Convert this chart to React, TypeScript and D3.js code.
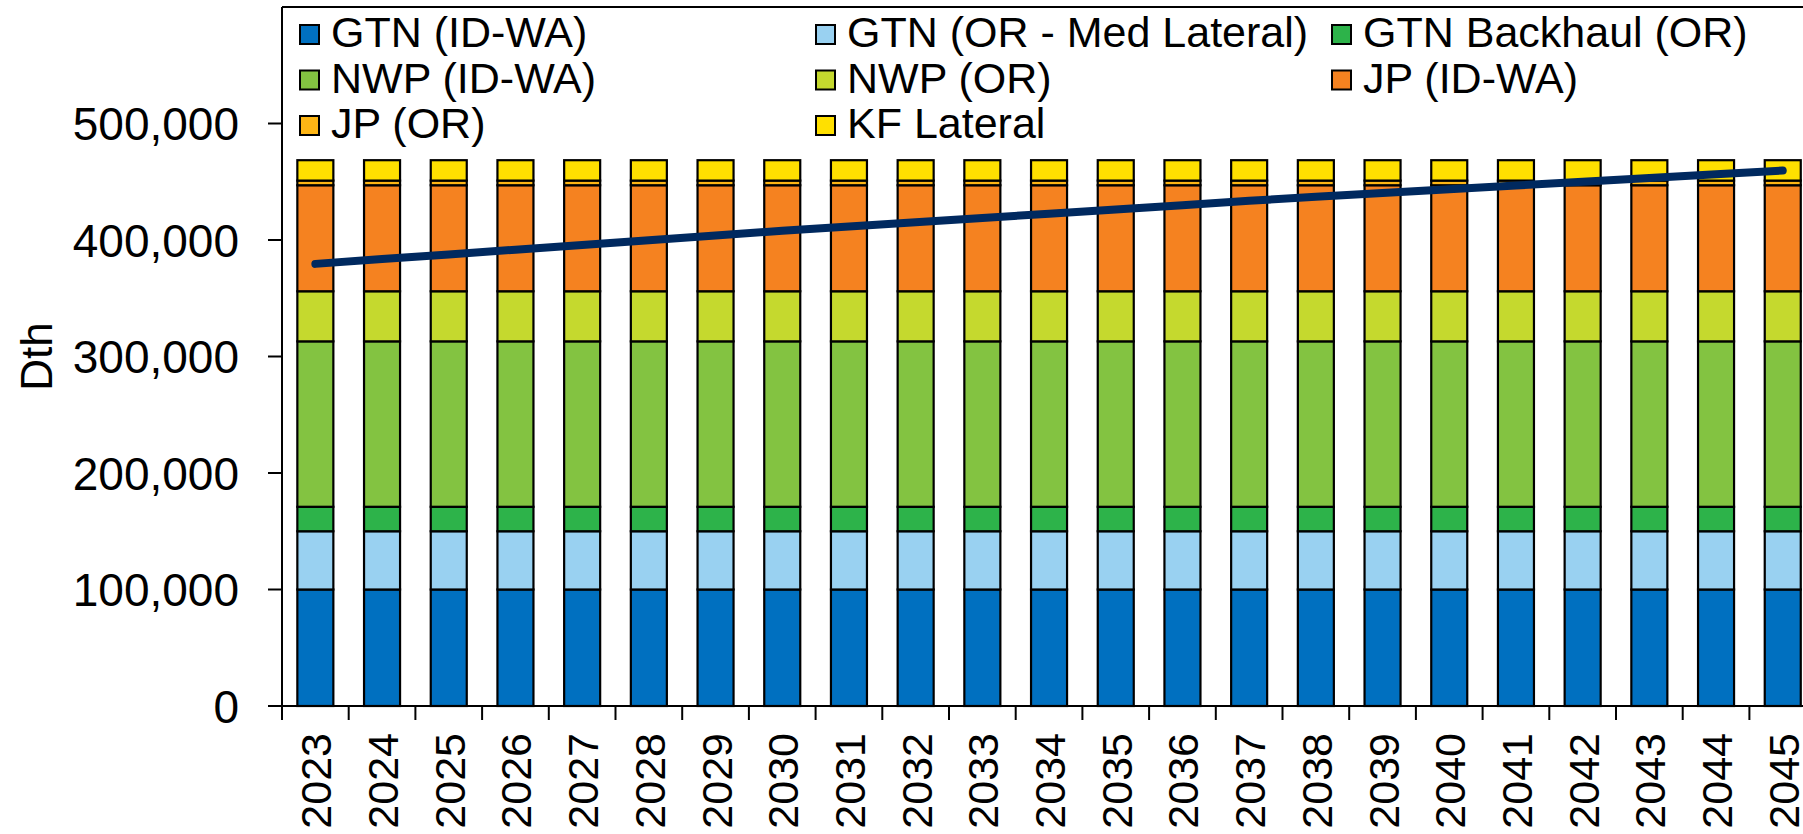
import React from 'react';
import * as d3 from 'd3';

const years = ['2023','2024','2025','2026','2027','2028','2029','2030','2031','2032','2033','2034','2035','2036','2037','2038','2039','2040','2041','2042','2043','2044','2045'];

const gtnIdWa = [100000,100000,100000,100000,100000,100000,100000,100000,100000,100000,100000,100000,100000,100000,100000,100000,100000,100000,100000,100000,100000,100000,100000];
const gtnOrMed = [50000,50000,50000,50000,50000,50000,50000,50000,50000,50000,50000,50000,50000,50000,50000,50000,50000,50000,50000,50000,50000,50000,50000];
const gtnBackhaul = [21000,21000,21000,21000,21000,21000,21000,21000,21000,21000,21000,21000,21000,21000,21000,21000,21000,21000,21000,21000,21000,21000,21000];
const nwpIdWa = [142000,142000,142000,142000,142000,142000,142000,142000,142000,142000,142000,142000,142000,142000,142000,142000,142000,142000,142000,142000,142000,142000,142000];
const nwpOr = [43000,43000,43000,43000,43000,43000,43000,43000,43000,43000,43000,43000,43000,43000,43000,43000,43000,43000,43000,43000,43000,43000,43000];
const jpIdWa = [91000,91000,91000,91000,91000,91000,91000,91000,91000,91000,91000,91000,91000,91000,91000,91000,91000,91000,91000,91000,91000,91000,91000];
const jpOr = [4000,4000,4000,4000,4000,4000,4000,4000,4000,4000,4000,4000,4000,4000,4000,4000,4000,4000,4000,4000,4000,4000,4000];
const kfLateral = [17500,17500,17500,17500,17500,17500,17500,17500,17500,17500,17500,17500,17500,17500,17500,17500,17500,17500,17500,17500,17500,17500,17500];

const demand = [379500,383600,387600,391700,395700,399800,403800,407900,411600,415200,418900,422600,426200,429900,433600,437200,440400,443600,446800,450000,453200,456400,459600];

const yTicks = [0,100000,200000,300000,400000,500000];

const seriesNames = ['GTN (ID-WA)','GTN (OR - Med Lateral)','GTN Backhaul (OR)','NWP (ID-WA)','NWP (OR)','JP (ID-WA)','JP (OR)','KF Lateral'];
const seriesValues = [gtnIdWa, gtnOrMed, gtnBackhaul, nwpIdWa, nwpOr, jpIdWa, jpOr, kfLateral];
const seriesColors = ['#0070C0','#99D1F1','#2DB34A','#83C341','#C5D92E','#F58220','#FDB515','#FFE000'];

const FONT = '"Liberation Sans", Arial, sans-serif';

export default function App() {
  const W = 1803, H = 834;
  const x0 = 282, y0 = 706;
  const step = 66.7;
  const x = d3.scaleBand<string>().domain(years).range([x0, x0 + step * years.length]).paddingInner(0.46).paddingOuter(0.23);
  const y = d3.scaleLinear().domain([0, 600000]).range([y0, 7]);

  const rows = years.map((yr, i) => {
    const o: any = { year: yr };
    seriesNames.forEach((n, k) => { o[n] = seriesValues[k][i]; });
    return o;
  });
  const stacked = d3.stack().keys(seriesNames)(rows);

  const line = d3.line<number>().x((_, i) => (x(years[i]) as number) + x.bandwidth() / 2).y(d => y(d));

  const legendCols = [299, 815, 1331];
  const legendRows = [47, 92.5, 138];

  const boundaries = d3.range(years.length + 1).map(i => x0 + i * x.step());

  return (
    <svg width={W} height={H} style={{ position: 'absolute', left: 0, top: 0, display: 'block', background: '#fff' }} fontFamily={FONT}>
      <rect x={0} y={0} width={W} height={H} fill="#fff" />
      {stacked.map((s, k) => (
        <g key={k} fill={seriesColors[k]} stroke="#000" strokeWidth={2.2}>
          {s.map((d, i) => (
            <rect key={i} x={x(years[i])} y={y(d[1])} width={x.bandwidth()} height={y(d[0]) - y(d[1])} />
          ))}
        </g>
      ))}
      {/* top frame */}
      <line x1={x0} x2={W + 20} y1={y(600000)} y2={y(600000)} stroke="#000" strokeWidth={2} />
      {/* y axis */}
      <line x1={x0} x2={x0} y1={y(600000)} y2={y0 + 14} stroke="#000" strokeWidth={2} />
      {yTicks.map(t => (
        <g key={t}>
          <line x1={x0 - 14} x2={x0} y1={y(t)} y2={y(t)} stroke="#000" strokeWidth={2} />
          <text x={239} y={y(t)} dy="0.36em" textAnchor="end" fontSize={46} fill="#000">{d3.format(',')(t)}</text>
        </g>
      ))}
      {/* x axis */}
      <line x1={x0} x2={W + 20} y1={y0} y2={y0} stroke="#000" strokeWidth={2} />
      {boundaries.map((b, i) => (
        <line key={i} x1={b} x2={b} y1={y0} y2={y0 + 14} stroke="#000" strokeWidth={2} />
      ))}
      {years.map(yr => {
        const cx = (x(yr) as number) + x.bandwidth() / 2;
        return (
          <text key={yr} transform={`translate(${cx + 16},733) rotate(-90)`} textAnchor="end" fontSize={43} fill="#000">{yr}</text>
        );
      })}
      {/* y title */}
      <text transform={`translate(52,${(y(600000) + y0) / 2}) rotate(-90)`} textAnchor="middle" fontSize={44} fill="#000">Dth</text>
      {/* demand line */}
      <path d={line(demand) || ''} fill="none" stroke="#00295F" strokeWidth={8} strokeLinecap="round" strokeLinejoin="round" />
      {/* legend */}
      {seriesNames.map((n, k) => {
        const cx = legendCols[k % 3];
        const by = legendRows[Math.floor(k / 3)];
        return (
          <g key={n}>
            <rect x={cx + 1} y={by - 22} width={19} height={19} fill={seriesColors[k]} stroke="#000" strokeWidth={2} />
            <text x={cx + 32} y={by} fontSize={43} fill="#000">{n}</text>
          </g>
        );
      })}
    </svg>
  );
}
